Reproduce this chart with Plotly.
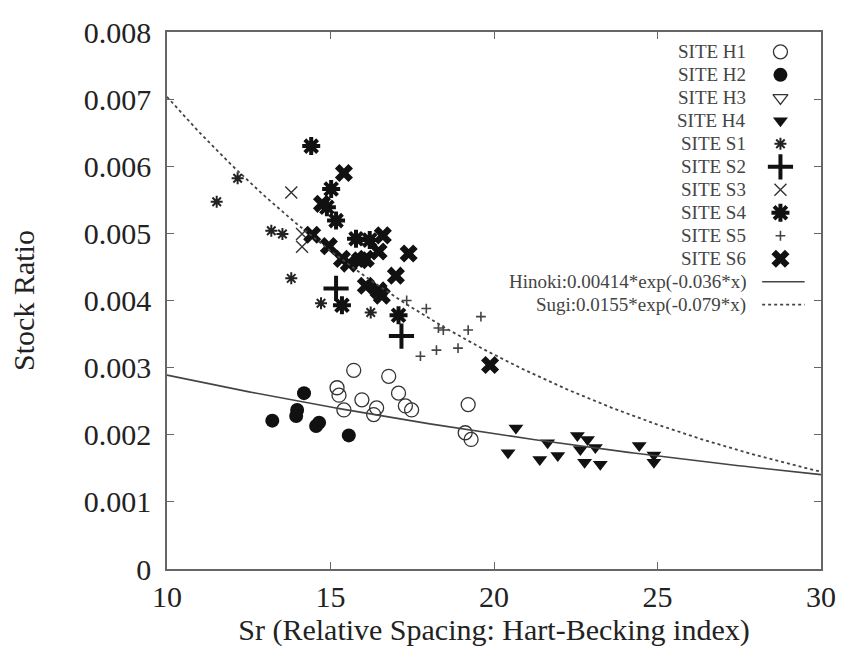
import numpy as np
import plotly.graph_objects as go

# ---- data ----
h1_x = [15.71, 15.20, 15.26, 15.41, 15.96, 16.41, 16.32, 16.78, 17.08, 17.29, 17.48, 19.21, 19.12, 19.30]
h1_y = [0.00296, 0.00270, 0.00259, 0.00237, 0.00252, 0.00240, 0.00230, 0.00287, 0.00262, 0.00243, 0.00237, 0.00245, 0.00203, 0.00193]
h2_x = [14.19, 13.98, 13.95, 14.56, 13.22, 15.56, 14.65]
h2_y = [0.00262, 0.00237, 0.00228, 0.00213, 0.00221, 0.00199, 0.00218]
h3_x = []
h3_y = []
h4_x = [20.67, 20.43, 21.64, 21.40, 21.95, 22.55, 22.86, 22.64, 23.10, 22.77, 23.25, 24.44, 24.89, 24.89]
h4_y = [0.00210, 0.00173, 0.00188, 0.00163, 0.00169, 0.00199, 0.00193, 0.00178, 0.00181, 0.00159, 0.00156, 0.00184, 0.00170, 0.00159]
s1_x = [11.52, 12.16, 13.19, 13.53, 13.80, 14.71, 16.23]
s1_y = [0.00547, 0.00582, 0.00504, 0.00499, 0.00433, 0.00396, 0.00382]
s2_x = [15.17, 17.17]
s2_y = [0.00418, 0.00347]
s3_x = [13.80, 14.13, 14.13]
s3_y = [0.00561, 0.00499, 0.00480]
s4_x = [14.41, 15.02, 15.17, 15.78, 14.89, 16.20, 15.35, 17.08]
s4_y = [0.00630, 0.00566, 0.00519, 0.00492, 0.00539, 0.00490, 0.00393, 0.00378]
s5_x = [17.33, 17.93, 18.30, 18.45, 19.21, 19.60, 17.75, 18.24, 18.90]
s5_y = [0.00400, 0.00388, 0.00359, 0.00356, 0.00356, 0.00376, 0.00317, 0.00326, 0.00329]
s6_x = [15.41, 14.74, 14.44, 14.95, 15.35, 15.56, 16.08, 16.47, 16.60, 17.39, 17.00, 16.08, 16.47, 16.57, 19.88, 15.90]
s6_y = [0.00590, 0.00544, 0.00498, 0.00481, 0.00462, 0.00455, 0.00462, 0.00473, 0.00497, 0.00470, 0.00437, 0.00422, 0.00415, 0.00407, 0.00304, 0.00460]

hinoki_a, hinoki_b = 0.00414, -0.036
sugi_a, sugi_b = 0.0155, -0.079

x_ticks = [10, 15, 20, 25, 30]
y_ticks = [0, 0.001, 0.002, 0.003, 0.004, 0.005, 0.006, 0.007, 0.008]
y_tick_text = ["0", "0.001", "0.002", "0.003", "0.004", "0.005", "0.006", "0.007", "0.008"]

FONT = "Liberation Serif"
INK = "#111111"

fig = go.Figure()

# legend layout (fractions of the plot area)
LEG_KEY_X = 0.938
LEG_TEXT_X = 0.888
LEG_TOP = 0.963
LEG_STEP = 0.0428
LEG_LINE = (0.910, 0.975)
annotations = []
row = [0]

def legend_text(name):
    ky = LEG_TOP - row[0] * LEG_STEP
    annotations.append(dict(text=name, x=LEG_TEXT_X, y=ky, xref="paper", yref="paper",
                            xanchor="right", yanchor="middle", showarrow=False,
                            font=dict(family=FONT, size=19, color="#444444")))
    row[0] += 1
    return ky

def add(name, xs, ys, symbol, size, lw=1.2, color=INK):
    m = dict(symbol=symbol, size=size, color=color, line=dict(width=lw, color=color))
    if xs:
        fig.add_trace(go.Scatter(x=xs, y=ys, mode="markers", name=name, marker=m,
                                 showlegend=False))
    ky = legend_text(name)
    fig.add_trace(go.Scatter(x=[LEG_KEY_X], y=[ky], xaxis="x2", yaxis="y2", mode="markers",
                             marker=m, showlegend=False, hoverinfo="skip"))

add("SITE H1", h1_x, h1_y, "circle-open", 14, 1.3, "#333333")
add("SITE H2", h2_x, h2_y, "circle", 14, 0)
add("SITE H3", h3_x, h3_y, "triangle-down-open", 13, 1.3, "#333333")
add("SITE H4", h4_x, h4_y, "triangle-down", 13, 0)
add("SITE S1", s1_x, s1_y, "asterisk-open", 10, 2.0, "#222222")
add("SITE S2", s2_x, s2_y, "cross-thin-open", 18, 4.0)
add("SITE S3", s3_x, s3_y, "x-thin-open", 12, 1.4, "#333333")
add("SITE S4", s4_x, s4_y, "asterisk-open", 15, 4.0)
add("SITE S5", s5_x, s5_y, "cross-thin-open", 7, 1.6, "#444444")
add("SITE S6", s6_x, s6_y, "x", 16, 0)

xc = np.linspace(10, 30, 200)
fits = [("Hinoki:0.00414*exp(-0.036*x)", hinoki_a, hinoki_b, "solid", 1.6),
        ("Sugi:0.0155*exp(-0.079*x)", sugi_a, sugi_b, "dot", 1.8)]
for name, a, b, dash, w in fits:
    fig.add_trace(go.Scatter(x=xc, y=a * np.exp(b * xc), mode="lines", name=name,
                             showlegend=False, line=dict(color="#444444", width=w, dash=dash)))
    ky = legend_text(name)
    fig.add_trace(go.Scatter(x=list(LEG_LINE), y=[ky, ky], xaxis="x2", yaxis="y2", mode="lines",
                             line=dict(color="#444444", width=w, dash=dash),
                             showlegend=False, hoverinfo="skip"))

axis_common = dict(showline=True, linecolor="#666666", linewidth=1.5, mirror="ticks",
                   ticks="inside", ticklen=7, tickcolor="#666666", showgrid=False,
                   zeroline=False, tickfont=dict(family=FONT, size=30, color="#222222"))

fig.update_layout(
    width=848, height=648,
    margin=dict(l=167, r=23, t=32, b=76),
    paper_bgcolor="white", plot_bgcolor="white",
    font=dict(family=FONT, color="#222222"),
    showlegend=False,
    xaxis=dict(range=[10, 30], tickvals=x_ticks, ticktext=[str(v) for v in x_ticks],
               title=dict(text="Sr (Relative Spacing: Hart-Becking index)",
                          font=dict(family=FONT, size=30), standoff=2),
               **axis_common),
    yaxis=dict(range=[0, 0.008], tickvals=y_ticks, ticktext=y_tick_text,
               ticklabelstandoff=8,
               title=dict(text="Stock Ratio", font=dict(family=FONT, size=30), standoff=40),
               **axis_common),
    xaxis2=dict(range=[0, 1], overlaying="x", visible=False, anchor="y2"),
    yaxis2=dict(range=[0, 1], overlaying="y", visible=False, anchor="x2"),
    annotations=annotations,
)

fig.write_html("out.html")
